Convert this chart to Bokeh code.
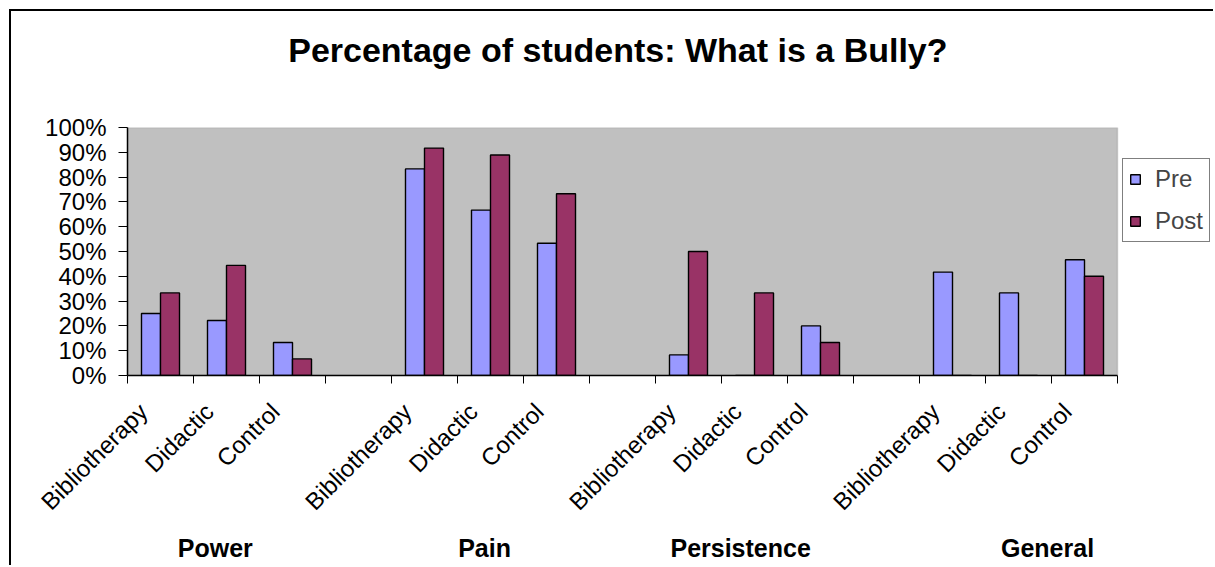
from math import pi
from bokeh.plotting import figure
from bokeh.models import (ColumnDataSource, FixedTicker, LinearAxis, Range1d, BoxAnnotation,
                          Legend, LegendItem, PrintfTickFormatter)
from bokeh.embed import file_html
from bokeh.resources import INLINE

# ---- data ----
title = "Percentage of students: What is a Bully?"
groups = ["Power", "Pain", "Persistence", "General"]
conditions = ["Bibliotherapy", "Didactic", "Control"]
pre = [25.0, 22.2, 13.3, 83.3, 66.7, 53.3, 8.3, 0.0, 20.0, 41.7, 33.3, 46.7]
post = [33.3, 44.4, 6.7, 91.7, 88.9, 73.3, 50.0, 33.3, 13.3, 0.0, 0.0, 40.0]
y_ticks = list(range(0, 101, 10))

# ---- layout helpers (slots: 3 conditions + 1 spacer per group) ----
centers = []
labels = []
for gi, g in enumerate(groups):
    for ci, c in enumerate(conditions):
        centers.append(gi * 4 + ci + 0.5)
        labels.append(c)
n_slots = len(groups) * 4 - 1
bar_w = 0.288
label_shift = 0.26
label_pos = [c - label_shift for c in centers]
group_ticks = [1.33, 5.41, 9.29, 13.94]
title_x = 7.43

# plot area is 990 px wide for the slots; the frame also covers the legend strip
AREA_PX = 990
FRAME_PX = 1088
x_end = n_slots * FRAME_PX / AREA_PX

FONT = "Liberation Sans"
PRE_C = "#9999FF"
POST_C = "#993366"

src = ColumnDataSource(dict(
    x_pre=[c - bar_w / 2 for c in centers],
    x_post=[c + bar_w / 2 for c in centers],
    pre=pre, post=post,
))

p = figure(width=1204, height=556, x_range=Range1d(0, x_end), y_range=Range1d(0, 100),
           title=None, x_axis_type=None, y_axis_type=None,
           output_backend="svg", toolbar_location=None,
           min_border_left=116, min_border_right=0, min_border_top=116, min_border_bottom=192)
p.styles = {"margin-left": "9px", "margin-top": "9px",
            "border-top": "2px solid black", "border-left": "2px solid black"}
p.background_fill_color = "white"
p.border_fill_color = "white"
p.outline_line_color = None

area = BoxAnnotation(left=0, right=n_slots, bottom=0, top=100, level="underlay",
                     fill_color="#C0C0C0", fill_alpha=1.0,
                     line_color="#808080", line_width=1.5)
p.add_layout(area)

r_pre = p.vbar(x="x_pre", top="pre", width=bar_w, source=src, fill_color=PRE_C,
               line_color="black", line_width=1.4)
r_post = p.vbar(x="x_post", top="post", width=bar_w, source=src, fill_color=POST_C,
                line_color="black", line_width=1.4)

# chart title, set above the plot area
tax = LinearAxis(ticker=FixedTicker(ticks=[title_x], minor_ticks=[]),
                 major_label_overrides={title_x: title})
tax.major_tick_out = 0
tax.major_tick_in = 0
tax.major_tick_line_color = None
tax.axis_line_color = None
tax.major_label_standoff = 59
tax.major_label_text_font = FONT
tax.major_label_text_font_size = "34px"
tax.major_label_text_font_style = "bold"
tax.major_label_text_color = "black"
p.add_layout(tax, "above")

yax = LinearAxis(ticker=FixedTicker(ticks=y_ticks, minor_ticks=[]),
                 formatter=PrintfTickFormatter(format="%d%%"))
yax.major_tick_out = 9
yax.major_tick_in = 0
yax.major_label_standoff = 12
yax.major_label_text_font = FONT
yax.major_label_text_font_size = "24px"
yax.major_label_text_color = "black"
yax.axis_line_color = "black"
yax.axis_line_width = 1.5
yax.major_tick_line_color = "black"
p.add_layout(yax, "left")

xax = LinearAxis(ticker=FixedTicker(ticks=label_pos, minor_ticks=list(range(n_slots + 1))),
                 major_label_overrides={c: l for c, l in zip(label_pos, labels)},
                 bounds=(0, n_slots))
xax.major_tick_out = 0
xax.major_tick_in = 0
xax.major_tick_line_color = None
xax.minor_tick_out = 8
xax.minor_tick_in = 0
xax.minor_tick_line_color = "black"
xax.major_label_orientation = pi / 4
xax.major_label_standoff = 24
xax.major_label_text_font = FONT
xax.major_label_text_font_size = "24px"
xax.major_label_text_color = "black"
xax.axis_line_color = "black"
xax.axis_line_width = 1.5
p.add_layout(xax, "below")

gax = LinearAxis(ticker=FixedTicker(ticks=group_ticks, minor_ticks=[]),
                 major_label_overrides={t: g for t, g in zip(group_ticks, groups)})
gax.major_tick_out = 0
gax.major_tick_in = 0
gax.major_tick_line_color = None
gax.axis_line_color = None
gax.major_label_standoff = 6
gax.major_label_text_font = FONT
gax.major_label_text_font_size = "25px"
gax.major_label_text_font_style = "bold"
gax.major_label_text_color = "black"
p.add_layout(gax, "below")

legend = Legend(items=[LegendItem(label="Pre", renderers=[r_pre]),
                       LegendItem(label="Post", renderers=[r_post])],
                location=(995, 133), margin=0, padding=6, spacing=14,
                label_height=24, glyph_width=12, glyph_height=12, label_standoff=14,
                label_text_font=FONT, label_text_font_size="24px",
                border_line_color="black", border_line_width=1.5,
                background_fill_color="white", background_fill_alpha=1.0)
p.add_layout(legend, "center")

open("out.html", "w").write(file_html(p, INLINE))
